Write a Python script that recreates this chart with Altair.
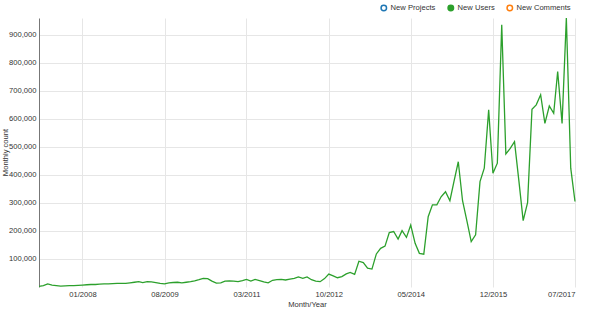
import altair as alt
import pandas as pd

# Monthly counts (thousands) for "New Users", Mar 2007 .. Jul 2017
start_month = "2007-03-01"
users_k = [
    2, 5, 11, 7, 5, 3, 4, 5, 5, 6,
    7, 8, 9, 9, 10, 11, 11, 12, 13, 13,
    13, 15, 17, 19, 16, 19, 18, 16, 13, 11,
    15, 16, 17, 15, 17, 19, 22, 26, 31, 30,
    21, 14, 15, 21, 22, 21, 19, 23, 27, 21,
    27, 23, 18, 15, 24, 26, 27, 25, 28, 31,
    36, 31, 36, 26, 21, 19, 30, 46, 40, 33,
    37, 47, 52, 45, 92, 87, 67, 64, 118, 138,
    146, 194, 198, 171, 201, 177, 221, 156, 120, 117,
    251, 293, 293, 322, 340, 308, 375, 447, 308, 235,
    162, 186, 376, 424, 632, 406, 442, 936, 475, 495,
    519, 378, 237, 301, 634, 650, 686, 584, 646, 620,
    769, 584, 960, 424, 305,
]
series_names = ["New Projects", "New Users", "New Comments"]
series_colors = ["#1f77b4", "#2ca02c", "#ff7f0e"]
series_fills = ["#ffffff", "#2ca02c", "#ffffff"]
y_ticks = [100000, 200000, 300000, 400000, 500000, 600000, 700000, 800000, 900000]
x_tick_months = [(2008, 1), (2009, 8), (2011, 3), (2012, 10), (2014, 5), (2015, 12), (2017, 7)]

dates = pd.date_range(start_month, periods=len(users_k), freq="MS")
df = pd.DataFrame({
    "date": dates.strftime("%Y-%m-%d"),
    "count": [v * 1000 for v in users_k],
    "series": "New Users",
})

FONT = "Liberation Sans"

x_enc = alt.X(
    "date:T",
    scale=alt.Scale(type="utc",
                    domain=[alt.DateTime(year=2007, month=3, date=1, utc=True),
                            alt.DateTime(year=2017, month=7, date=1, utc=True)]),
    axis=alt.Axis(
        title="Month/Year",
        values=[alt.DateTime(year=y, month=m, date=1, utc=True) for y, m in x_tick_months],
        format="%m/%Y",
        domain=False, ticks=False, grid=True,
        gridColor="#e6e6e6", labelPadding=3, titlePadding=3,
    ),
)
y_enc = alt.Y(
    "count:Q",
    scale=alt.Scale(domain=[0, 960000], nice=False, zero=True),
    axis=alt.Axis(
        title="Monthly count",
        values=y_ticks, format=",d",
        domain=True, domainColor="#777777", ticks=False,
        grid=True, gridColor="#e6e6e6", labelPadding=3,
        titleX=-30, titleY=134, titleAngle=270, titleBaseline="bottom",
    ),
)

legend = alt.Legend(
    title=None, orient="none", direction="horizontal",
    legendX=341, legendY=-14,
    symbolType="circle", symbolSize=30, symbolStrokeWidth=1.5, symbolOpacity=1,
    labelOffset=3, columnPadding=9, labelFontSize=7.6, labelColor="#333333",
)

stroke_scale = alt.Scale(domain=series_names, range=series_colors)
fill_scale = alt.Scale(domain=series_names, range=series_fills)

line = alt.Chart(df).mark_line(strokeWidth=1.3, interpolate="linear").encode(
    x=x_enc, y=y_enc,
    stroke=alt.Stroke("series:N", scale=stroke_scale, legend=legend),
)

pts = alt.Chart(df).transform_filter("false").mark_point(shape="circle", opacity=1).encode(
    x=x_enc, y=y_enc,
    stroke=alt.Stroke("series:N", scale=stroke_scale, legend=legend),
    fill=alt.Fill("series:N", scale=fill_scale, legend=legend),
)

chart = alt.layer(line, pts).properties(
    width=536, height=269,
    autosize=alt.AutoSizeParams(type="none"),
    padding={"left": 39, "top": 18, "right": 16, "bottom": 28},
).configure_view(stroke=None).configure_axis(
    labelFont=FONT, titleFont=FONT, labelFontSize=7.6, titleFontSize=7.6,
    labelColor="#333333", titleColor="#333333", titleFontWeight="normal",
).configure_legend(labelFont=FONT)

chart.save("out.html", embed_options={"renderer": "svg", "actions": False})
